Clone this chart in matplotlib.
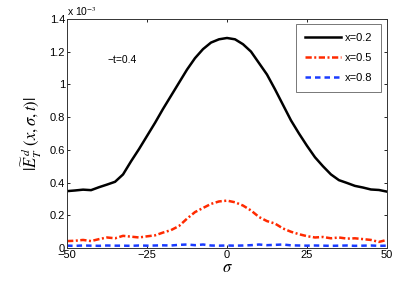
import matplotlib
matplotlib.use("Agg")
import matplotlib.pyplot as plt

plt.rcParams['font.family'] = ['Liberation Sans', 'DejaVu Sans']
plt.rcParams['mathtext.fontset'] = 'stix'

sigma = [-50, -47.5, -45, -42.5, -40, -37.5, -35, -32.5, -30, -27.5, -25,
         -22.5, -20, -17.5, -15, -12.5, -10, -7.5, -5, -2.5, 0,
         2.5, 5, 7.5, 10, 12.5, 15, 17.5, 20, 22.5, 25,
         27.5, 30, 32.5, 35, 37.5, 40, 42.5, 45, 47.5, 50]

# values in units of 1e-3
x02 = [0.348, 0.352, 0.357, 0.354, 0.372, 0.388, 0.405, 0.45, 0.53, 0.605, 0.685,
       0.765, 0.85, 0.93, 1.01, 1.09, 1.16, 1.215, 1.255, 1.275, 1.283,
       1.275, 1.245, 1.20, 1.13, 1.06, 0.97, 0.875, 0.78, 0.70, 0.625,
       0.555, 0.50, 0.45, 0.415, 0.398, 0.38, 0.37, 0.358, 0.355, 0.345]
x05 = [0.043, 0.045, 0.05, 0.043, 0.055, 0.065, 0.06, 0.075, 0.07, 0.065, 0.072,
       0.078, 0.095, 0.11, 0.135, 0.18, 0.22, 0.245, 0.27, 0.285, 0.29,
       0.28, 0.26, 0.23, 0.19, 0.165, 0.15, 0.12, 0.10, 0.085, 0.073,
       0.065, 0.068, 0.06, 0.065, 0.058, 0.06, 0.055, 0.05, 0.038, 0.05]
x08 = [0.015, 0.014, 0.016, 0.015, 0.014, 0.016, 0.015, 0.015, 0.014, 0.016, 0.015,
       0.016, 0.017, 0.016, 0.02, 0.022, 0.018, 0.022, 0.016, 0.015, 0.016,
       0.015, 0.016, 0.018, 0.022, 0.018, 0.02, 0.022, 0.017, 0.016, 0.015,
       0.016, 0.015, 0.014, 0.015, 0.016, 0.014, 0.015, 0.016, 0.014, 0.015]

fig = plt.figure(figsize=(4.09, 2.81), dpi=100)
ax = fig.add_axes([0.164, 0.117, 0.782, 0.816])

ax.plot(sigma, x02, color='black', lw=1.8, label='x=0.2')
ax.plot(sigma, x05, color='#ff2a00', lw=1.8, ls=(0, (2.5, 1, 0.8, 1)), label='x=0.5')
ax.plot(sigma, x08, color='#1a3cff', lw=1.8, ls=(0, (2.2, 1.6)), label='x=0.8')

ax.set_xlim(-50, 50)
ax.set_ylim(0, 1.4)
ax.set_xticks([-50, -25, 0, 25, 50])
ax.set_yticks([0, 0.2, 0.4, 0.6, 0.8, 1, 1.2, 1.4])
ax.set_yticklabels(['0', '0.2', '0.4', '0.6', '0.8', '1', '1.2', '1.4'])
ax.tick_params(direction='in', top=True, right=True, labelsize=8,
               length=2.5, width=0.6, pad=1.5)
for s in ax.spines.values():
    s.set_linewidth(0.7)
    s.set_color('#333333')

ax.set_xlabel(r'$\sigma$', fontsize=12, labelpad=0)
ax.set_ylabel(r'$|\widetilde{E}_T^{\,d}\ (x,\sigma,t)|$', fontsize=12, labelpad=4)

ax.text(0, 1.005, r'x 10$^{-3}$', transform=ax.transAxes, fontsize=7.5,
        va='bottom', ha='left')
ax.text(-37.5, 1.15, '\u2212t=0.4', fontsize=7.5, va='center', ha='left')

leg = ax.legend(loc='upper right', fontsize=8, handlelength=3.2,
                fancybox=False, borderaxespad=0.5, labelspacing=0.9,
                handletextpad=0.4, borderpad=0.8)
leg.get_frame().set_edgecolor('#555555')
leg.get_frame().set_linewidth(0.7)

fig.savefig('out.png', dpi=100)
